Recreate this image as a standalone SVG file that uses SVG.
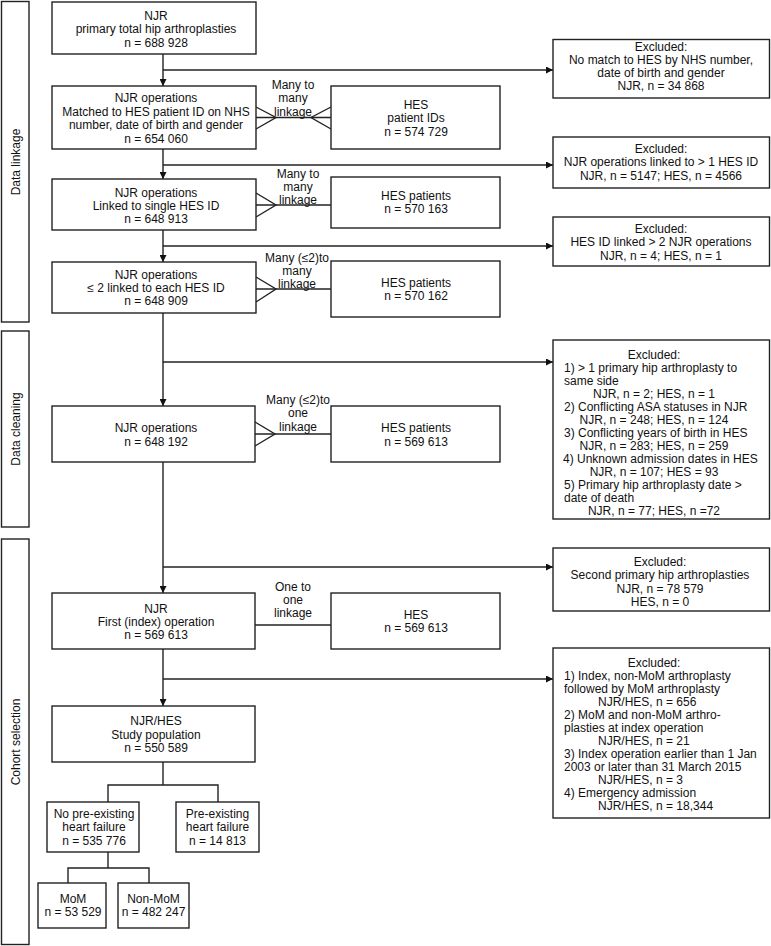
<svg xmlns="http://www.w3.org/2000/svg" width="771" height="946" viewBox="0 0 771 946">
<defs>
<style>
.box{fill:#fff;stroke:#222;stroke-width:1.4}
.band{fill:#fff;stroke:#222;stroke-width:1.4}
.ln{fill:none;stroke:#222;stroke-width:1.4}
text{font-family:"Liberation Sans",Arial,sans-serif;font-size:12px;fill:#111}
.c{text-anchor:middle}
.s{text-anchor:start}
</style>
<marker id="ah" viewBox="0 0 10 10" refX="10" refY="5" markerWidth="7" markerHeight="7" markerUnits="userSpaceOnUse" orient="auto">
<path d="M0,0 L10,5 L0,10 z" fill="#111"/>
</marker>
</defs>

<g id="bands">
<g id="band-linkage"><rect class="band" x="1.5" y="1.5" width="27.5" height="320.5"/><text class="c" transform="translate(19.5,162) rotate(-90)">Data linkage</text></g>
<g id="band-cleaning"><rect class="band" x="1.5" y="331" width="27.5" height="196"/><text class="c" transform="translate(19.5,429) rotate(-90)">Data cleaning</text></g>
<g id="band-cohort"><rect class="band" x="1.5" y="539" width="27.5" height="405.5"/><text class="c" transform="translate(19.5,742) rotate(-90)">Cohort selection</text></g>
</g>

<g id="connectors">
<!-- main trunk -->
<line class="ln" x1="163" y1="54" x2="163" y2="86" marker-end="url(#ah)"/>
<line class="ln" x1="163" y1="149" x2="163" y2="179" marker-end="url(#ah)"/>
<line class="ln" x1="163" y1="230" x2="163" y2="262" marker-end="url(#ah)"/>
<line class="ln" x1="163" y1="313" x2="163" y2="406" marker-end="url(#ah)"/>
<line class="ln" x1="163" y1="462" x2="163" y2="593" marker-end="url(#ah)"/>
<line class="ln" x1="163" y1="649" x2="163" y2="706" marker-end="url(#ah)"/>
<!-- exclusion arrows -->
<line class="ln" x1="163" y1="70" x2="553" y2="70" marker-end="url(#ah)"/>
<line class="ln" x1="163" y1="165" x2="553" y2="165" marker-end="url(#ah)"/>
<line class="ln" x1="163" y1="246" x2="553" y2="246" marker-end="url(#ah)"/>
<line class="ln" x1="163" y1="362" x2="553" y2="362" marker-end="url(#ah)"/>
<line class="ln" x1="163" y1="567" x2="553" y2="567" marker-end="url(#ah)"/>
<line class="ln" x1="163" y1="679" x2="553" y2="679" marker-end="url(#ah)"/>
<!-- linkages -->
<line class="ln" x1="256" y1="117.5" x2="331" y2="117.5"/>
<polyline class="ln" points="256,107 276,117.5 256,129"/>
<polyline class="ln" points="331,107 311,117.5 331,129"/>
<line class="ln" x1="256" y1="205" x2="331" y2="205"/>
<polyline class="ln" points="256,193 276,205 256,217"/>
<line class="ln" x1="256" y1="289" x2="331" y2="289"/>
<polyline class="ln" points="256,277 276,289 256,302"/>
<line class="ln" x1="255" y1="434" x2="331" y2="434"/>
<polyline class="ln" points="255,422 275,434 255,446"/>
<line class="ln" x1="255" y1="625" x2="331" y2="625"/>
<!-- tree -->
<polyline class="ln" points="163,762 163,785"/>
<polyline class="ln" points="108,802 108,785 218,785 218,802"/>
<polyline class="ln" points="108,852 108,868"/>
<polyline class="ln" points="68,883 68,868 149,868 149,883"/>
<!-- linkage labels -->
<text class="c" x="293" y="88.5">Many to</text>
<text class="c" x="293" y="102">many</text>
<text class="c" x="293" y="115.5">linkage</text>
<text class="c" x="298" y="177.5">Many to</text>
<text class="c" x="298" y="190.5">many</text>
<text class="c" x="298" y="203.5">linkage</text>
<text class="c" x="297" y="261.5">Many (≤2)to</text>
<text class="c" x="297" y="274.5">many</text>
<text class="c" x="297" y="287.5">linkage</text>
<text class="c" x="298" y="403.5">Many (≤2)to</text>
<text class="c" x="298" y="417">one</text>
<text class="c" x="298" y="430.5">linkage</text>
<text class="c" x="293" y="590.5">One to</text>
<text class="c" x="293" y="603.5">one</text>
<text class="c" x="293" y="616.5">linkage</text>
</g>

<g id="n1"><rect class="box" x="52" y="2" width="204" height="52"/>
<text class="c" x="156" y="19.5">NJR</text><text class="c" x="156" y="33">primary total hip arthroplasties</text><text class="c" x="156" y="46.5">n = 688 928</text></g>

<g id="n2"><rect class="box" x="52" y="86" width="204" height="63"/>
<text class="c" x="156" y="102">NJR operations</text><text class="c" x="156" y="115.5">Matched to HES patient ID on NHS</text><text class="c" x="156" y="129">number, date of birth and gender</text><text class="c" x="156" y="142.5">n = 654 060</text></g>

<g id="hes1"><rect class="box" x="331" y="86" width="169" height="63"/>
<text class="c" x="416" y="108.5">HES</text><text class="c" x="416" y="122">patient IDs</text><text class="c" x="416" y="135.5">n = 574 729</text></g>

<g id="ex1"><rect class="box" x="553" y="39.5" width="216.5" height="58.5"/>
<text class="c" x="661" y="50.5">Excluded:</text><text class="c" x="661" y="63.5">No match to HES by NHS number,</text><text class="c" x="661" y="76.5">date of birth and gender</text><text class="c" x="661" y="90">NJR, n = 34 868</text></g>

<g id="n3"><rect class="box" x="52" y="179" width="204" height="51"/>
<text class="c" x="156" y="196.5">NJR operations</text><text class="c" x="156" y="209.5">Linked to single HES ID</text><text class="c" x="156" y="223">n = 648 913</text></g>

<g id="hes2"><rect class="box" x="331" y="177" width="169" height="51"/>
<text class="c" x="416" y="199.5">HES patients</text><text class="c" x="416" y="213">n = 570 163</text></g>

<g id="ex2"><rect class="box" x="553" y="137" width="216.5" height="51"/>
<text class="c" x="661" y="152.5">Excluded:</text><text class="c" x="661" y="166">NJR operations linked to &gt; 1 HES ID</text><text class="c" x="661" y="180">NJR, n = 5147; HES, n = 4566</text></g>

<g id="n4"><rect class="box" x="52" y="262" width="204" height="51"/>
<text class="c" x="156" y="278.5">NJR operations</text><text class="c" x="156" y="291.5">≤ 2 linked to each HES ID</text><text class="c" x="156" y="305">n = 648 909</text></g>

<g id="hes3"><rect class="box" x="331" y="261" width="169" height="56"/>
<text class="c" x="416" y="286.5">HES patients</text><text class="c" x="416" y="300">n = 570 162</text></g>

<g id="ex3"><rect class="box" x="553" y="217" width="216.5" height="49"/>
<text class="c" x="661" y="232.5">Excluded:</text><text class="c" x="661" y="246">HES ID linked &gt; 2 NJR operations</text><text class="c" x="661" y="259.5">NJR, n = 4; HES, n = 1</text></g>

<g id="n5"><rect class="box" x="52" y="406" width="203" height="56"/>
<text class="c" x="156" y="431.5">NJR operations</text><text class="c" x="156" y="445.5">n = 648 192</text></g>

<g id="hes4"><rect class="box" x="331" y="406" width="169" height="56"/>
<text class="c" x="416" y="431.5">HES patients</text><text class="c" x="416" y="445.5">n = 569 613</text></g>

<g id="ex4"><rect class="box" x="553" y="340" width="216.5" height="179"/>
<text class="c" x="654" y="358.5">Excluded:</text>
<text class="s" x="564" y="371.5">1) &gt; 1 primary hip arthroplasty to</text>
<text class="s" x="564" y="384.5">same side</text>
<text class="c" x="654" y="397.5">NJR, n = 2; HES, n = 1</text>
<text class="s" x="564" y="410.5">2) Conflicting ASA statuses in NJR</text>
<text class="c" x="654" y="423.5">NJR, n = 248; HES, n = 124</text>
<text class="s" x="564" y="436.5">3) Conflicting years of birth in HES</text>
<text class="c" x="654" y="449.5">NJR, n = 283; HES, n = 259</text>
<text class="s" x="563" y="462.5">4) Unknown admission dates in HES</text>
<text class="c" x="654" y="475.5">NJR, n = 107; HES = 93</text>
<text class="s" x="564" y="488.5">5) Primary hip arthroplasty date &gt;</text>
<text class="s" x="564" y="501.5">date of death</text>
<text class="c" x="654" y="514.5">NJR, n = 77; HES, n =72</text></g>

<g id="n6"><rect class="box" x="52" y="593" width="203" height="56"/>
<text class="c" x="156" y="612.5">NJR</text><text class="c" x="156" y="625.5">First (index) operation</text><text class="c" x="156" y="639">n = 569 613</text></g>

<g id="hes5"><rect class="box" x="331" y="593" width="169" height="56"/>
<text class="c" x="416" y="618.5">HES</text><text class="c" x="416" y="632">n = 569 613</text></g>

<g id="ex5"><rect class="box" x="553" y="548" width="216.5" height="63"/>
<text class="c" x="660" y="565.5">Excluded:</text><text class="c" x="660" y="579">Second primary hip arthroplasties</text><text class="c" x="660" y="592.5">NJR, n = 78 579</text><text class="c" x="660" y="605.5">HES, n = 0</text></g>

<g id="ex6"><rect class="box" x="553" y="648" width="216.5" height="170"/>
<text class="c" x="654" y="666.5">Excluded:</text>
<text class="s" x="564" y="679.5">1) Index, non-MoM arthroplasty</text>
<text class="s" x="564" y="692.5">followed by MoM arthroplasty</text>
<text class="s" x="598" y="705.5">NJR/HES, n = 656</text>
<text class="s" x="564" y="718.5">2) MoM and non-MoM arthro-</text>
<text class="s" x="564" y="731.5">plasties at index operation</text>
<text class="s" x="598" y="744.5">NJR/HES, n = 21</text>
<text class="s" x="564" y="757.5">3) Index operation earlier than 1 Jan</text>
<text class="s" x="564" y="770.5">2003 or later than 31 March 2015</text>
<text class="s" x="598" y="783.5">NJR/HES, n = 3</text>
<text class="s" x="564" y="796.5">4) Emergency admission</text>
<text class="s" x="598" y="809.5">NJR/HES, n = 18,344</text></g>

<g id="n7"><rect class="box" x="52" y="706" width="203" height="56"/>
<text class="c" x="156" y="725">NJR/HES</text><text class="c" x="156" y="738.5">Study population</text><text class="c" x="156" y="752">n = 550 589</text></g>

<g id="n8"><rect class="box" x="47" y="802" width="92" height="50"/>
<text class="c" x="94" y="817.5">No pre-existing</text><text class="c" x="94" y="831">heart failure</text><text class="c" x="94" y="844.5">n = 535 776</text></g>

<g id="n9"><rect class="box" x="176" y="802" width="83" height="50"/>
<text class="c" x="217.5" y="817.5">Pre-existing</text><text class="c" x="217.5" y="831">heart failure</text><text class="c" x="217.5" y="844.5">n = 14 813</text></g>

<g id="n10"><rect class="box" x="38" y="883" width="68" height="45"/>
<text class="c" x="73" y="902.5">MoM</text><text class="c" x="73" y="916">n = 53 529</text></g>

<g id="n11"><rect class="box" x="118" y="883" width="71" height="45"/>
<text class="c" x="153.5" y="902.5">Non-MoM</text><text class="c" x="153.5" y="916">n = 482 247</text></g>
</svg>
